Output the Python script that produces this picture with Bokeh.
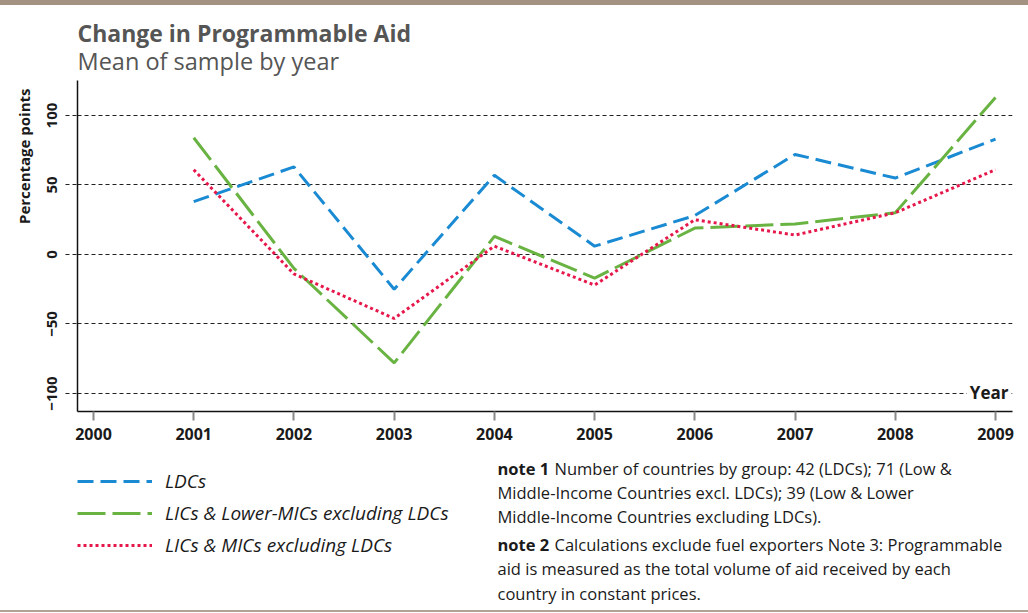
from bokeh.plotting import figure
from bokeh.models import (FixedTicker, Label, Legend, LegendItem, Range1d, Title, Div)
from bokeh.layouts import column
from bokeh.embed import file_html
from bokeh.resources import INLINE

# ---------------- data ----------------
years = [2001, 2002, 2003, 2004, 2005, 2006, 2007, 2008, 2009]
ldcs = [38, 63, -25, 57, 6, 28, 72, 55, 83]
lics_lower_mics = [84, -10, -78, 13, -17, 19, 22, 30, 113]
lics_mics = [61, -14, -46, 6, -22, 25, 14, 30, 61]
series_names = ["LDCs", "LICs & Lower-MICs excluding LDCs", "LICs & MICs excluding LDCs"]
x_ticks = [2000, 2001, 2002, 2003, 2004, 2005, 2006, 2007, 2008, 2009]
y_ticks = [-100, -50, 0, 50, 100]

title_text = "Change in Programmable Aid"
subtitle_text = "Mean of sample by year"
y_label_text = "Percentage points"
x_label_text = "Year"
note_lines = [
    ("note 1", "Number of countries by group: 42 (LDCs); 71 (Low &"),
    (None, "Middle-Income Countries excl. LDCs); 39 (Low & Lower"),
    (None, "Middle-Income Countries excluding LDCs)."),
    ("note 2", "Calculations exclude fuel exporters Note 3: Programmable"),
    (None, "aid is measured as the total volume of aid received by each"),
    (None, "country in constant prices."),
]

FONT = "Open Sans"
BLUE = "#1a8ad3"
GREEN = "#69b342"
RED = "#e6174b"
BAND = "#a39182"
TEXT = "#1a1a1a"
DASH = {"blue": "16 7", "green": "28 7", "red": "3 3"}

# ---------------- geometry (screen px) ----------------
W = 1028
BAND_H = 5
FL, FR, FT, FB = 77, 1012, 80, 411  # plot frame
MAIN_BOTTOM = 455
BOT_BOTTOM = 610

x_start, x_end = 1999.8404, 2009.1696
y_start, y_end = -112.95, 125.18


def dy(py):
    return y_end - (py - FT) / (FB - FT) * (y_end - y_start)


def dx(px):
    return x_start + (px - FL) / (FR - FL) * (x_end - x_start)


def plain_fig(h):
    f = figure(width=W, height=h, toolbar_location=None, output_backend="svg",
               x_range=Range1d(FL, FR), y_range=Range1d(0, h),
               min_border_left=FL, min_border_right=W - FR,
               min_border_top=0, min_border_bottom=0,
               x_axis_type=None, y_axis_type=None)
    f.outline_line_color = None
    f.xgrid.visible = False
    f.ygrid.visible = False
    return f


band = Div(text="", width=W, height=BAND_H, margin=0, styles={"background-color": BAND})
bottom_rule = Div(text="", width=W, height=2, margin=0, styles={"background-color": "#b0a294"})

# ---------------- header ----------------
TOP_H = FT - BAND_H
top = plain_fig(TOP_H)
top.add_layout(Label(x=FL, y=FT - 32, text=title_text, text_font=FONT,
                     text_font_style="bold", text_font_size="23px", text_color="#555555",
                     text_baseline="alphabetic", text_align="left"))
top.add_layout(Label(x=FL, y=FT - 60, text=subtitle_text, text_font=FONT,
                     text_font_size="23.5px", text_color="#555555",
                     text_baseline="alphabetic", text_align="left"))

# ---------------- main chart ----------------
p = figure(width=W, height=MAIN_BOTTOM - FT, toolbar_location=None, output_backend="svg",
           title=None,
           x_range=Range1d(x_start, x_end), y_range=Range1d(y_start, y_end),
           min_border_left=FL, min_border_right=W - FR,
           min_border_top=0, min_border_bottom=MAIN_BOTTOM - FB)
p.outline_line_color = None
p.background_fill_color = "white"
p.border_fill_color = "white"

p.add_layout(Title(text=y_label_text, text_font=FONT, text_font_style="bold",
                   text_font_size="15px", text_color=TEXT, align="right",
                   offset=8, standoff=21), "left")

# grid
p.xgrid.visible = False
p.ygrid.ticker = FixedTicker(ticks=y_ticks)
p.ygrid.grid_line_color = "#222222"
p.ygrid.grid_line_dash = "4 3"
p.ygrid.grid_line_width = 1

# x axis
p.xaxis.ticker = FixedTicker(ticks=x_ticks)
p.xaxis.axis_line_color = "#111111"
p.xaxis.axis_line_width = 1.5
p.xaxis.major_tick_in = 0
p.xaxis.major_tick_out = 9
p.xaxis.major_tick_line_color = "#888888"
p.xaxis.major_tick_line_width = 2
p.xaxis.minor_tick_line_color = None
p.xaxis.major_label_standoff = 7
p.xaxis.major_label_text_font = FONT
p.xaxis.major_label_text_font_style = "bold"
p.xaxis.major_label_text_font_size = "16px"
p.xaxis.major_label_text_color = TEXT

# y axis
p.yaxis.ticker = FixedTicker(ticks=y_ticks)
p.yaxis.axis_line_color = "#111111"
p.yaxis.axis_line_width = 1.5
p.yaxis.major_tick_in = 0
p.yaxis.major_tick_out = 12
p.yaxis.major_tick_line_color = "#222222"
p.yaxis.major_tick_line_dash = "4 3"
p.yaxis.major_tick_line_width = 1
p.yaxis.minor_tick_line_color = None
p.yaxis.major_label_orientation = "vertical"
p.yaxis.major_label_standoff = 8
p.yaxis.major_label_text_font = FONT
p.yaxis.major_label_text_font_style = "bold"
p.yaxis.major_label_text_font_size = "15px"
p.yaxis.major_label_text_color = TEXT

# lines
p.line(years, ldcs, line_color=BLUE, line_width=3, line_dash=DASH["blue"])
p.line(years, lics_lower_mics, line_color=GREEN, line_width=3, line_dash=DASH["green"])
p.line(years, lics_mics, line_color=RED, line_width=3, line_dash=DASH["red"])

p.add_layout(Label(x=dx(1011), y=dy(392), text=x_label_text, text_font=FONT,
                   text_font_style="bold", text_font_size="17px", text_color=TEXT,
                   text_baseline="middle", text_align="right",
                   background_fill_color="white", padding=3))

# ---------------- bottom panel: legend + notes ----------------
BH = BOT_BOTTOM - MAIN_BOTTOM
b = plain_fig(BH)


def by(sy):
    return BOT_BOTTOM - sy


# series drawn again here only to feed the legend (they fall outside this panel's range)
k1 = b.line(years, ldcs, line_color=BLUE, line_width=3, line_dash=DASH["blue"])
k2 = b.line(years, lics_lower_mics, line_color=GREEN, line_width=3, line_dash=DASH["green"])
k3 = b.line(years, lics_mics, line_color=RED, line_width=3, line_dash=DASH["red"])
legend = Legend(items=[LegendItem(label=series_names[0], renderers=[k1]),
                       LegendItem(label=series_names[1], renderers=[k2]),
                       LegendItem(label=series_names[2], renderers=[k3])],
                location=(0, BOT_BOTTOM - 561), orientation="vertical",
                glyph_width=75, glyph_height=32, label_height=32, spacing=0,
                label_standoff=13, padding=0, margin=0,
                border_line_color=None, background_fill_alpha=0,
                label_text_font=FONT, label_text_font_style="italic",
                label_text_font_size="19px", label_text_color=TEXT)
b.add_layout(legend, "center")

note_y = [468, 492, 516, 544, 568, 593]
for (bold, txt), yy in zip(note_lines, note_y):
    xx = 497
    if bold:
        b.add_layout(Label(x=497, y=by(yy), text=bold, text_font=FONT,
                           text_font_style="bold", text_font_size="16.5px",
                           text_color=TEXT, text_baseline="middle", text_align="left"))
        xx = 554
    b.add_layout(Label(x=xx, y=by(yy), text=txt, text_font=FONT,
                       text_font_size="16.5px", text_color=TEXT,
                       text_baseline="middle", text_align="left"))

layout = column(band, top, p, b, bottom_rule, spacing=0)
open("out.html", "w").write(file_html(layout, INLINE))
